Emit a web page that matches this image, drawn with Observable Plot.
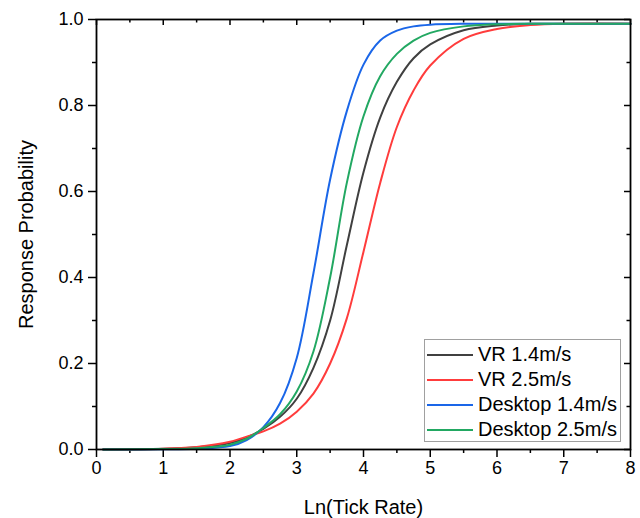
<!DOCTYPE html>
<html>
<head>
<meta charset="utf-8">
<script src="https://cdn.jsdelivr.net/npm/d3@7"></script>
<script src="https://cdn.jsdelivr.net/npm/@observablehq/plot@0.6"></script>
<style>
  html, body { margin: 0; padding: 0; background: #fff; }
  #wrap { position: relative; width: 640px; height: 518px; font-family: "Liberation Sans", Arial, sans-serif; }
  #legend { position: absolute; left: 424px; top: 339px; width: 195px; height: 101px; border: 1px solid #a0a0a0; background: #fff; }
  .row { position: absolute; left: 0; height: 25px; display: flex; align-items: center; font-size: 20px; color: #000; white-space: nowrap; }
  .swatch { width: 46px; height: 0; border-top: 2px solid; margin-left: 2px; margin-right: 5px; }
</style>
</head>
<body>
<div id="wrap"><div id="legend"></div></div>
<script>
// Ln(Tick Rate) sample positions
const lnTickRate = [0.1, 1.0, 1.5, 2.0, 2.25, 2.5, 2.75, 3.0, 3.25, 3.5, 3.75, 4.0, 4.25, 4.5, 4.75, 5.0, 5.5, 6.0, 6.5, 7.0, 8.0];
// Response probabilities
const vr14   = [0.000, 0.002, 0.005, 0.015, 0.028, 0.048, 0.076, 0.118, 0.190, 0.300, 0.475, 0.645, 0.772, 0.855, 0.910, 0.942, 0.975, 0.986, 0.990, 0.990, 0.990];
const vr25   = [0.000, 0.002, 0.006, 0.018, 0.030, 0.042, 0.060, 0.088, 0.130, 0.200, 0.305, 0.460, 0.620, 0.750, 0.835, 0.893, 0.955, 0.978, 0.987, 0.990, 0.990];
const desk14 = [0.000, 0.0005, 0.002, 0.008, 0.022, 0.052, 0.108, 0.213, 0.410, 0.628, 0.787, 0.895, 0.951, 0.974, 0.984, 0.988, 0.990, 0.990, 0.990, 0.990, 0.990];
const desk25 = [0.000, 0.001, 0.003, 0.011, 0.025, 0.050, 0.082, 0.135, 0.228, 0.400, 0.620, 0.775, 0.868, 0.920, 0.951, 0.969, 0.984, 0.989, 0.990, 0.990, 0.990];
const seriesNames = ["VR 1.4m/s", "VR 2.5m/s", "Desktop 1.4m/s", "Desktop 2.5m/s"];
const seriesColors = ["#404040", "#ff3c3c", "#1a66e8", "#22a862"];
const seriesValues = [vr14, vr25, desk14, desk25];
const xMajor = [0, 1, 2, 3, 4, 5, 6, 7, 8];
const xMinor = [0.5, 1.5, 2.5, 3.5, 4.5, 5.5, 6.5, 7.5];
const yMajor = [0, 0.2, 0.4, 0.6, 0.8, 1.0];
const yMinor = [0.1, 0.3, 0.5, 0.7, 0.9];

const rows = [];
seriesNames.forEach((name, i) => {
  lnTickRate.forEach((x, j) => rows.push({series: name, x, y: seriesValues[i][j]}));
});

const W = 640, H = 518, mL = 96, mR = 10, mT = 19, mB = 69;
const plotW = W - mL - mR, plotH = H - mT - mB;

const chart = Plot.plot({
  width: W, height: H,
  marginLeft: mL, marginRight: mR, marginTop: mT, marginBottom: mB,
  style: {fontFamily: "'Liberation Sans', Arial, sans-serif", fontSize: "18px", color: "#000", background: "#fff"},
  x: {domain: [0, 8]},
  y: {domain: [0, 1]},
  color: {domain: seriesNames, range: seriesColors},
  marks: [
    Plot.axisX({anchor: "bottom", ticks: xMajor, tickSize: 8, tickPadding: 4, tickFormat: d3.format("d"), strokeWidth: 1.5,
      label: "Ln(Tick Rate)", labelAnchor: "center", labelOffset: 64, labelArrow: false, fontSize: 18}),
    Plot.axisX({anchor: "bottom", ticks: xMinor, tickSize: 4, strokeWidth: 1.5, tickFormat: () => "", label: null}),
    Plot.axisY({anchor: "left", ticks: yMajor, tickSize: 8, tickPadding: 5, tickFormat: d3.format(".1f"), strokeWidth: 1.5,
      label: "Response Probability", labelAnchor: "center", labelOffset: 78, labelArrow: false, fontSize: 18}),
    Plot.axisY({anchor: "left", ticks: yMinor, tickSize: 4, strokeWidth: 1.5, tickFormat: () => "", label: null}),
    // inward ticks on top and right
    Plot.tickX(xMajor, {x: d => d, insetBottom: plotH - 6, stroke: "#000", strokeWidth: 1.5}),
    Plot.tickX(xMinor, {x: d => d, insetBottom: plotH - 3.5, stroke: "#000", strokeWidth: 1.5}),
    Plot.tickY(yMajor, {y: d => d, insetLeft: plotW - 6, stroke: "#000", strokeWidth: 1.5}),
    Plot.tickY(yMinor, {y: d => d, insetLeft: plotW - 3.5, stroke: "#000", strokeWidth: 1.5}),
    Plot.line(rows, {x: "x", y: "y", z: "series", stroke: "series", strokeWidth: 2, curve: "catmull-rom"}),
    Plot.frame({stroke: "#000", strokeWidth: 1.8})
  ]
});
d3.select(chart).selectAll("g[aria-label='y-axis label'] text, g[aria-label='x-axis label'] text").style("font-size", "20px");
document.getElementById("wrap").prepend(chart);

const legend = document.getElementById("legend");
seriesNames.forEach((name, i) => {
  const r = document.createElement("div");
  r.className = "row";
  r.style.top = (2 + i * 25) + "px";
  const sw = document.createElement("div");
  sw.className = "swatch";
  sw.style.borderColor = seriesColors[i];
  const t = document.createElement("span");
  t.textContent = name;
  r.appendChild(sw); r.appendChild(t);
  legend.appendChild(r);
});
</script>
</body>
</html>
